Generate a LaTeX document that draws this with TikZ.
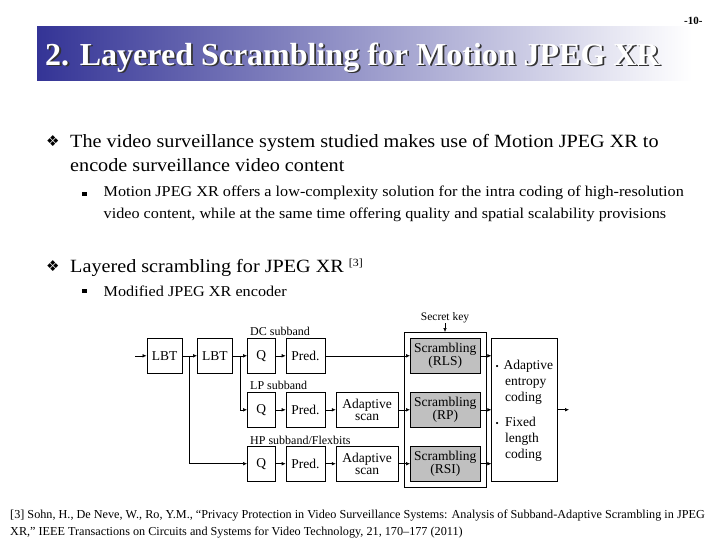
\documentclass[tikz,border=0pt]{standalone}
\usepackage{fontspec}
\setmainfont{Liberation Serif}
\newfontfamily\dejavu{DejaVu Sans}
\newfontfamily\widerm[FakeStretch=1.08]{Liberation Serif}
\usetikzlibrary{arrows.meta}
\definecolor{bannerblue}{RGB}{52,52,150}
\definecolor{scrgray}{RGB}{192,192,192}
\newcommand{\fsz}[1]{\fontsize{#1}{#1}\selectfont}
\newcommand{\titletext}{2. Layered Scrambling for Motion JPEG XR}
\begin{document}
\begin{tikzpicture}[x=1pt,y=-1pt,
  blk/.style={draw,line width=0.6pt,inner sep=0pt,minimum height=35pt,font=\fsz{13.5},align=center},
  scr/.style={blk,fill=scrgray,minimum width=70pt},
  lbl/.style={anchor=west,inner sep=0pt,font=\fsz{12}},
  arr/.style={-{Latex[length=4pt,width=3.6pt]},line width=0.6pt},
  body/.style={anchor=base west,inner sep=0pt},
  ]
\useasboundingbox (0,0) rectangle (728,546);
\fill[white] (0,0) rectangle (728,546);
% banner
\shade[left color=bannerblue,right color=white] (37,26.7) rectangle (692,80);
\node[body,font=\bfseries\fsz{32}] (title) at (45,65) {\makebox[0pt][l]{\raisebox{-1.8pt}{\hspace*{1.8pt}\color{black!80}\titletext}}\textcolor{white}{\titletext}};
\node[body,font=\bfseries\fsz{11}] (pageno) at (684,24) {-10-};
% bullets
\node[body,font=\dejavu\fsz{15}] (b1) at (46,146.5) {❖};
\node[body,font=\widerm\fsz{18.7}] (t1a) at (70,147.5) {The video surveillance system studied makes use of Motion JPEG XR to};
\node[body,font=\widerm\fsz{18.7}] (t1b) at (70,171) {encode surveillance video content};
\fill (82,191.5) rectangle (86.5,196);
\node[body,font=\widerm\fsz{15}] (t2a) at (103.5,196) {Motion JPEG XR offers a low-complexity solution for the intra coding of high-resolution};
\node[body,font=\widerm\fsz{15}] (t2b) at (103.5,218) {video content, while at the same time offering quality and spatial scalability provisions};
\node[body,font=\dejavu\fsz{15}] (b2) at (46,271.5) {❖};
\node[body,font=\widerm\fsz{18.7}] (t3) at (70,272.5) {Layered scrambling for JPEG XR \raisebox{6pt}{\fsz{11}[3]}};
\fill (82,288.5) rectangle (86.5,293);
\node[body,font=\widerm\fsz{15}] (t4) at (103.5,296.5) {Modified JPEG XR encoder};
% diagram
\coordinate (in) at (135,355.8);
\node[blk,minimum width=35.4pt] (lbt1) at (164.5,355.8) {LBT};
\node[blk,minimum width=35pt] (lbt2) at (214.8,355.8) {LBT};
\node[blk,minimum width=27.7pt] (q1) at (261.2,355.8) {Q};
\node[blk,minimum width=39pt] (p1) at (305.5,355.8) {Pred.};
\node[blk,minimum width=27.7pt] (q2) at (261.2,409.8) {Q};
\node[blk,minimum width=39pt] (p2) at (305.5,409.8) {Pred.};
\node[blk,minimum width=62.3pt] (as2) at (367.2,409.8) {Adaptive\\[-1pt]scan};
\node[blk,minimum width=27.7pt] (q3) at (261.2,463.7) {Q};
\node[blk,minimum width=39pt] (p3) at (305.5,463.7) {Pred.};
\node[blk,minimum width=62.3pt] (as3) at (367.2,463.7) {Adaptive\\[-1pt]scan};
\node[draw,line width=0.6pt,minimum width=81.6pt,minimum height=155pt,inner sep=0pt] (outer) at (445.5,409.8) {};
\node[scr] (s1) at (445.3,355.8) {Scrambling\\[-1pt](RLS)};
\node[scr] (s2) at (445.3,409.8) {Scrambling\\[-1pt](RP)};
\node[scr] (s3) at (445.3,463.7) {Scrambling\\[-1pt](RSI)};
\node[draw,line width=0.6pt,minimum width=65.6pt,minimum height=142.7pt,inner sep=0pt] (ent) at (524.5,409.7) {};
\node[anchor=base west,inner sep=0pt,align=left,font=\fontsize{13.5}{16}\selectfont,text width=60pt] (enttext) at (495.5,369.5) {%
  \makebox[8pt][l]{\fsz{9}•}Adaptive\\
  \hspace*{9.5pt}entropy\\
  \hspace*{9.5pt}coding\\[9pt]
  \makebox[8pt][l]{\fsz{9}•}\hspace*{1.5pt}Fixed\\
  \hspace*{9.5pt}length\\
  \hspace*{9.5pt}coding};
\coordinate (out) at (569,409.7);
\node[lbl] (dc) at (250,331) {DC subband};
\node[lbl] (lp) at (250,385.5) {LP subband};
\node[lbl] (hp) at (250,440) {HP subband/Flexbits};
\node[inner sep=0pt,font=\fsz{11.5}] (key) at (445,318) {Secret key};
% connectors
\draw[arr] (in) -- (lbt1);
\draw[arr] (lbt1) -- (lbt2);
\draw[arr] (lbt2) -- (q1);
\draw[arr] (q1) -- (p1);
\draw[arr] (p1) -- (s1);
\draw[arr] (q2) -- (p2);
\draw[arr] (p2) -- (as2);
\draw[arr] (as2) -- (s2);
\draw[arr] (q3) -- (p3);
\draw[arr] (p3) -- (as3);
\draw[arr] (as3) -- (s3);
\draw[arr] (s1.east) -- (s1.east -| ent.west);
\draw[arr] (s2.east) -- (s2.east -| ent.west);
\draw[arr] (s3.east) -- (s3.east -| ent.west);
\draw[arr] (ent) -- (out);
\draw[arr] (key) -- (outer.north -| key);
\draw[arr] (189.3,355.8) |- (q3);
\draw[arr] (240,355.8) |- (q2);
% footnote
\node[body,font=\fsz{12.2}] (fn1) at (10,518) {[3] Sohn, H., De Neve, W., Ro, Y.M., “Privacy Protection in Video Surveillance Systems: Analysis of Subband-Adaptive Scrambling in JPEG};
\node[body,font=\fsz{12.2}] (fn2) at (10,535) {XR,” IEEE Transactions on Circuits and Systems for Video Technology, 21, 170–177 (2011)};
\end{tikzpicture}
\end{document}
